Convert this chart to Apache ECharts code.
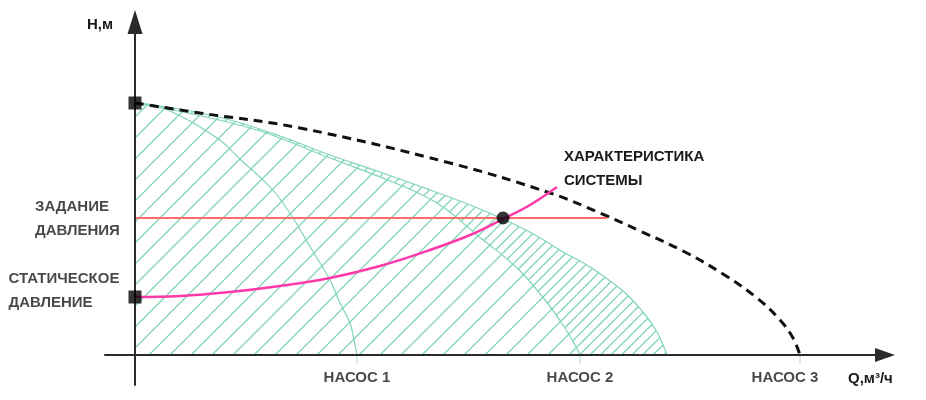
<!DOCTYPE html>
<html><head><meta charset="utf-8">
<script src="https://cdn.jsdelivr.net/npm/echarts@6/dist/echarts.min.js"></script>
<style>html,body{margin:0;padding:0;background:#fff}#c{width:926px;height:400px}</style>
</head><body><div id="c"></div>
<script>
// Q (flow) and H (head) in chart units
const pump1 = [[0,252],[28,247],[82,217],[108,193],[128,175],[142,160],[158,137],[177,105],[195,75],[205,52],[215,32],[219,15],[222,0]];
const pump2 = [[0,252],[115,227],[195,197],[265,170],[305,150],[342,120],[382,87],[410,55],[428,30],[440,10],[445,0]];
const envelope = [[0,252],[45,246],[95,235],[145,219],[195,200],[245,183],[295,165],[335,150],[368,136],[402,119],[428,103],[455,88],[488,64],[508,43],[522,23],[528,10],[532,0]];
const pump3 = [[0,252],[65,242],[165,227],[315,192],[415,162],[465,142],[505,124],[548,104],[588,81],[622,57],[645,35],[658,17],[665,0]];
const system = [[0,58],[45,59],[95,63],[145,69],[195,77],[245,89],[295,105],[335,120],[368,136],[395,150],[422,168]];
const setPressure = [[0,137],[472,137]];
const dutyPoint = [[368,137]];
const squares = [[0,252],[0,58]];
const pumpNames = ['НАСОС 1','НАСОС 2','НАСОС 3'];
const pumpMaxQ = [222,445,665];

const HATCH = '#7fd6b4';
const LINEG = '#7fd6b4';
const FONT = 'Liberation Sans';
const TXT = '#1a1a1a';

function hatch(P, offsets, bg){
  const c = document.createElement('canvas'); c.width = P; c.height = P;
  const g = c.getContext('2d');
  if (bg) { g.fillStyle = bg; g.fillRect(0,0,P,P); }
  g.strokeStyle = HATCH; g.lineWidth = 1.25;
  offsets.forEach(o => {
    for (let k=-1;k<=1;k++){
      const s = o + k*P;
      g.beginPath(); g.moveTo(s-1, P+1); g.lineTo(s+P+1, -1); g.stroke();
    }
  });
  return c;
}
const P = 21;
const patDouble = hatch(P, [0, P/2], null);
const patSingle = hatch(P, [0], '#ffffff');

const txt = {fontFamily: FONT, fontWeight: 'bold', fontSize: 15, color: TXT};

const chart = echarts.init(document.getElementById('c'));
chart.setOption({
  animation: false,
  grid: {left: 105, right: 41, top: 22, bottom: 15},
  xAxis: {
    type: 'value', min: -30, max: 750, z: 3,
    axisLine: {onZero: true, symbol: ['none','triangle'], symbolSize: [14, 20], lineStyle: {color: '#2a2a2a', width: 2}},
    axisTick: {show: false}, axisLabel: {show: false}, splitLine: {show: false},
    name: '\nQ,м³/ч', nameLocation: 'end', nameGap: -37,
    nameTextStyle: Object.assign({align: 'left', verticalAlign: 'top', lineHeight: 16}, txt)
  },
  yAxis: {
    type: 'value', min: -30, max: 333, z: 3,
    axisLine: {onZero: true, symbol: ['none','triangle'], symbolSize: [15, 24], lineStyle: {color: '#2a2a2a', width: 2}},
    axisTick: {show: false}, axisLabel: {show: false}, splitLine: {show: false},
    name: 'H,м', nameLocation: 'end', nameGap: -3,
    nameTextStyle: Object.assign({align: 'right', verticalAlign: 'middle', padding: [0,22,0,0]}, txt)
  },
  series: [
    {type: 'line', data: envelope, smooth: 0.4, symbol: 'none', z: 1,
     lineStyle: {color: LINEG, width: 1.2}, areaStyle: {color: {image: patDouble, repeat: 'repeat'}, opacity: 1}},
    {type: 'line', data: pump2, smooth: 0.4, symbol: 'none', z: 1,
     lineStyle: {color: LINEG, width: 1.2}, areaStyle: {color: {image: patSingle, repeat: 'repeat'}, opacity: 1}},
    {type: 'line', data: pump1, smooth: 0.4, symbol: 'none', z: 1,
     lineStyle: {color: LINEG, width: 1.2}},
    {type: 'line', data: pump3, smooth: 0.4, symbol: 'none', z: 2,
     lineStyle: {color: '#111', width: 3, type: [9, 6]}},
    {type: 'line', data: setPressure, symbol: 'none', z: 2,
     lineStyle: {color: '#ff6b6b', width: 2}},
    {type: 'line', data: system, smooth: 0.4, symbol: 'none', z: 2,
     lineStyle: {color: '#ff3aa8', width: 2.5},
     endLabel: Object.assign({show: true, formatter: 'ХАРАКТЕРИСТИКА\nСИСТЕМЫ', align: 'left', lineHeight: 24, distance: 7, offset: [0, -18]}, txt)},
    {type: 'scatter', data: squares, symbol: 'rect', symbolSize: 13, z: 10,
     itemStyle: {color: '#000'},
     label: {show: true, position: 'left', distance: 5, offset: [0, -6],
       formatter: p => p.dataIndex === 1 ? '{a|СТАТИЧЕСКОЕ}\n{a|ДАВЛЕНИЕ}' : '',
       rich: {a: Object.assign({width: 115, align: 'left', lineHeight: 24}, txt)}}},
    {type: 'scatter', data: [setPressure[0]], symbol: 'circle', symbolSize: 2, z: 1,
     itemStyle: {color: 'rgba(0,0,0,0)'},
     label: {show: true, position: 'left', distance: 7, offset: [0, 1],
       formatter: '{a|ЗАДАНИЕ}\n{a|ДАВЛЕНИЯ}',
       rich: {a: Object.assign({width: 92, align: 'left', lineHeight: 24}, txt)}}},
    {type: 'scatter', data: dutyPoint, symbol: 'circle', symbolSize: 13, z: 10,
     itemStyle: {color: '#000'}},
    {type: 'scatter', z: 2, symbol: 'rect', symbolSize: [1, 9], symbolOffset: [0, 4.5],
     itemStyle: {color: '#9fcfbf'},
     data: pumpMaxQ.map((q, i) => ({value: [q, 0], name: pumpNames[i],
       label: {offset: [i === 2 ? -15 : 0, 0]}})),
     label: Object.assign({show: true, position: 'bottom', distance: 6, formatter: p => p.name}, txt)}
  ]
});
</script></body></html>
